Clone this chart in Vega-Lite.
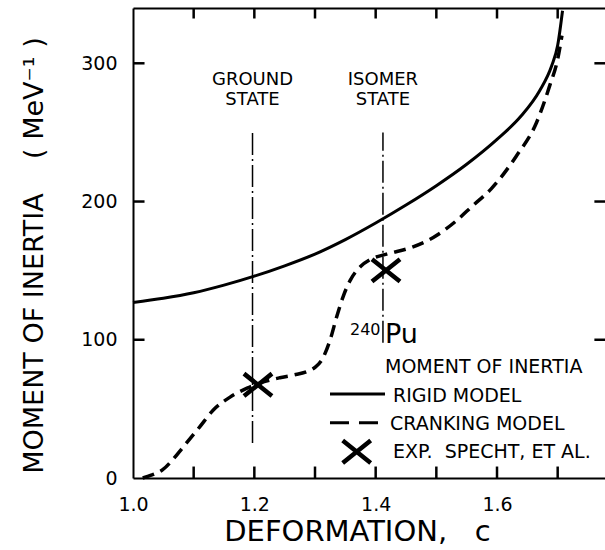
{
  "$schema": "https://vega.github.io/schema/vega-lite/v6.json",
  "width": 472,
  "height": 470,
  "autosize": "none",
  "padding": {"left": 133, "top": 8, "right": 0, "bottom": 72},
  "background": "white",
  "config": {
    "font": "DejaVu Sans",
    "view": {"stroke": null},
    "axis": {
      "grid": false,
      "domainColor": "black",
      "domainWidth": 2,
      "labelColor": "black",
      "labelFontSize": 19,
      "titleColor": "black",
      "titleFontWeight": "normal",
      "titleFontSize": 27
    }
  },
  "datasets": {
    "curves": [
      {"model": "RIGID MODEL", "c": 1.0, "inertia": 127},
      {"model": "RIGID MODEL", "c": 1.05, "inertia": 130},
      {"model": "RIGID MODEL", "c": 1.1, "inertia": 134},
      {"model": "RIGID MODEL", "c": 1.15, "inertia": 139.5},
      {"model": "RIGID MODEL", "c": 1.2, "inertia": 146},
      {"model": "RIGID MODEL", "c": 1.25, "inertia": 153.5},
      {"model": "RIGID MODEL", "c": 1.3, "inertia": 162},
      {"model": "RIGID MODEL", "c": 1.35, "inertia": 172.5},
      {"model": "RIGID MODEL", "c": 1.4, "inertia": 184.5},
      {"model": "RIGID MODEL", "c": 1.45, "inertia": 197.5},
      {"model": "RIGID MODEL", "c": 1.5, "inertia": 211.5},
      {"model": "RIGID MODEL", "c": 1.55, "inertia": 227},
      {"model": "RIGID MODEL", "c": 1.6, "inertia": 245},
      {"model": "RIGID MODEL", "c": 1.64, "inertia": 262},
      {"model": "RIGID MODEL", "c": 1.67, "inertia": 280},
      {"model": "RIGID MODEL", "c": 1.69, "inertia": 298},
      {"model": "RIGID MODEL", "c": 1.7, "inertia": 313},
      {"model": "RIGID MODEL", "c": 1.708, "inertia": 338},
      {"model": "CRANKING MODEL", "c": 1.016, "inertia": 0},
      {"model": "CRANKING MODEL", "c": 1.03, "inertia": 2},
      {"model": "CRANKING MODEL", "c": 1.049, "inertia": 6},
      {"model": "CRANKING MODEL", "c": 1.065, "inertia": 13},
      {"model": "CRANKING MODEL", "c": 1.082, "inertia": 22},
      {"model": "CRANKING MODEL", "c": 1.11, "inertia": 37},
      {"model": "CRANKING MODEL", "c": 1.132, "inertia": 49},
      {"model": "CRANKING MODEL", "c": 1.16, "inertia": 58.5},
      {"model": "CRANKING MODEL", "c": 1.188, "inertia": 65},
      {"model": "CRANKING MODEL", "c": 1.215, "inertia": 69.5},
      {"model": "CRANKING MODEL", "c": 1.242, "inertia": 72.5},
      {"model": "CRANKING MODEL", "c": 1.265, "inertia": 74.5},
      {"model": "CRANKING MODEL", "c": 1.287, "inertia": 77},
      {"model": "CRANKING MODEL", "c": 1.3, "inertia": 80},
      {"model": "CRANKING MODEL", "c": 1.312, "inertia": 86},
      {"model": "CRANKING MODEL", "c": 1.325, "inertia": 100},
      {"model": "CRANKING MODEL", "c": 1.336, "inertia": 117},
      {"model": "CRANKING MODEL", "c": 1.347, "inertia": 132},
      {"model": "CRANKING MODEL", "c": 1.358, "inertia": 143},
      {"model": "CRANKING MODEL", "c": 1.375, "inertia": 153},
      {"model": "CRANKING MODEL", "c": 1.391, "inertia": 158},
      {"model": "CRANKING MODEL", "c": 1.418, "inertia": 162},
      {"model": "CRANKING MODEL", "c": 1.457, "inertia": 166.5},
      {"model": "CRANKING MODEL", "c": 1.495, "inertia": 174},
      {"model": "CRANKING MODEL", "c": 1.53, "inertia": 185},
      {"model": "CRANKING MODEL", "c": 1.56, "inertia": 197},
      {"model": "CRANKING MODEL", "c": 1.59, "inertia": 209},
      {"model": "CRANKING MODEL", "c": 1.632, "inertia": 233},
      {"model": "CRANKING MODEL", "c": 1.665, "inertia": 257},
      {"model": "CRANKING MODEL", "c": 1.687, "inertia": 284},
      {"model": "CRANKING MODEL", "c": 1.7, "inertia": 303},
      {"model": "CRANKING MODEL", "c": 1.707, "inertia": 320}
    ],
    "states": [
      {"state": "GROUND\nSTATE", "c": 1.197, "from": 25.4, "to": 250},
      {"state": "ISOMER\nSTATE", "c": 1.412, "from": 97.8, "to": 250}
    ],
    "experiment": [
      {"c": 1.206, "inertia": 67.4},
      {"c": 1.417, "inertia": 150.2}
    ],
    "nuclide": [
      {"part": "mass", "text": "240", "c": 1.3577, "inertia": 103.4},
      {"part": "symbol", "text": "Pu", "c": 1.4154, "inertia": 97.7}
    ],
    "keyText": [
      {"text": "MOMENT OF INERTIA", "c": 1.4154, "inertia": 76},
      {"text": "RIGID MODEL", "c": 1.4286, "inertia": 55.2},
      {"text": "CRANKING MODEL", "c": 1.4236, "inertia": 34.7},
      {"text": "EXP.\u00a0\u00a0SPECHT, ET AL.", "c": 1.4286, "inertia": 14.2}
    ],
    "keySamples": [
      {"model": "RIGID MODEL", "c": 1.3247, "c2": 1.4154, "inertia": 60.8},
      {"model": "CRANKING MODEL", "c": 1.3247, "c2": 1.4154, "inertia": 40}
    ],
    "keyMarker": [
      {"c": 1.3687, "inertia": 19.0}
    ],
    "cTicks": [
      {"c": 1.1}, {"c": 1.2}, {"c": 1.3}, {"c": 1.4}, {"c": 1.5}, {"c": 1.6}, {"c": 1.7}
    ],
    "inertiaTicks": [
      {"inertia": 100}, {"inertia": 200}, {"inertia": 300}
    ]
  },
  "layer": [
    {
      "data": {"name": "curves"},
      "transform": [{"filter": "datum.model == 'RIGID MODEL'"}],
      "mark": {"type": "line", "interpolate": "monotone", "color": "black", "strokeWidth": 3},
      "encoding": {
        "x": {
          "field": "c", "type": "quantitative",
          "scale": {"domain": [1, 1.778], "nice": false, "zero": false},
          "axis": {
            "orient": "bottom",
            "values": [1, 1.2, 1.4, 1.6],
            "format": ".1f",
            "ticks": false,
            "labelPadding": 17,
            "labelFlush": false,
            "labelOverlap": false,
            "title": "DEFORMATION,\u00a0\u00a0\u00a0c",
            "titleFontSize": 29,
            "titleX": 224,
            "titleY": 53,
            "titleAlign": "center",
            "titleBaseline": "middle"
          }
        },
        "y": {
          "field": "inertia", "type": "quantitative",
          "scale": {"domain": [0, 340], "nice": false},
          "axis": {
            "orient": "left",
            "values": [0, 100, 200, 300],
            "ticks": false,
            "labelPadding": 16,
            "labelFlush": false,
            "labelOverlap": false,
            "title": "MOMENT OF INERTIA\u00a0\u00a0\u00a0\u00a0( MeV⁻¹ )",
            "titleAngle": -90,
            "titleX": -99,
            "titleY": 247,
            "titleAlign": "center",
            "titleBaseline": "middle"
          }
        }
      }
    },
    {
      "data": {"name": "curves"},
      "transform": [{"filter": "datum.model == 'CRANKING MODEL'"}],
      "mark": {"type": "line", "interpolate": "monotone", "color": "black", "strokeWidth": 3.5, "strokeDash": [12, 7]},
      "encoding": {
        "x": {
          "field": "c", "type": "quantitative",
          "scale": {"domain": [1, 1.778], "nice": false, "zero": false},
          "axis": {"orient": "top", "ticks": false, "labels": false, "title": null}
        },
        "y": {
          "field": "inertia", "type": "quantitative",
          "scale": {"domain": [0, 340], "nice": false},
          "axis": null
        }
      }
    },
    {
      "data": {"name": "cTicks"},
      "mark": {"type": "rule", "color": "black", "strokeWidth": 2.5},
      "encoding": {
        "x": {"field": "c", "type": "quantitative", "scale": {"domain": [1, 1.778], "nice": false, "zero": false}, "axis": null},
        "y": {"datum": 0, "type": "quantitative", "scale": {"domain": [0, 340], "nice": false}, "axis": null},
        "y2": {"datum": 8.3}
      }
    },
    {
      "data": {"name": "cTicks"},
      "mark": {"type": "rule", "color": "black", "strokeWidth": 2.5},
      "encoding": {
        "x": {"field": "c", "type": "quantitative", "scale": {"domain": [1, 1.778], "nice": false, "zero": false}, "axis": null},
        "y": {"datum": 340, "type": "quantitative", "scale": {"domain": [0, 340], "nice": false}, "axis": null},
        "y2": {"datum": 332.4}
      }
    },
    {
      "data": {"name": "inertiaTicks"},
      "mark": {"type": "rule", "color": "black", "strokeWidth": 2.5},
      "encoding": {
        "x": {"datum": 1, "type": "quantitative", "scale": {"domain": [1, 1.778], "nice": false, "zero": false}, "axis": null},
        "x2": {"datum": 1.019},
        "y": {"field": "inertia", "type": "quantitative", "scale": {"domain": [0, 340], "nice": false}, "axis": null}
      }
    },
    {
      "data": {"name": "inertiaTicks"},
      "mark": {"type": "rule", "color": "black", "strokeWidth": 2.5},
      "encoding": {
        "x": {"datum": 1.7605, "type": "quantitative", "scale": {"domain": [1, 1.778], "nice": false, "zero": false}, "axis": null},
        "x2": {"datum": 1.778},
        "y": {"field": "inertia", "type": "quantitative", "scale": {"domain": [0, 340], "nice": false}, "axis": null}
      }
    },
    {
      "data": {"name": "states"},
      "mark": {"type": "rule", "color": "black", "strokeWidth": 1.5, "strokeDash": [22, 4, 2, 4]},
      "encoding": {
        "x": {"field": "c", "type": "quantitative", "scale": {"domain": [1, 1.778], "nice": false, "zero": false}, "axis": null},
        "y": {"field": "from", "type": "quantitative", "scale": {"domain": [0, 340], "nice": false}, "axis": null},
        "y2": {"field": "to"}
      }
    },
    {
      "data": {"name": "states"},
      "mark": {"type": "text", "color": "black", "fontSize": 18, "align": "center", "baseline": "alphabetic", "lineBreak": "\n", "lineHeight": 20, "dy": -47},
      "encoding": {
        "x": {"field": "c", "type": "quantitative", "scale": {"domain": [1, 1.778], "nice": false, "zero": false}, "axis": null},
        "y": {"field": "to", "type": "quantitative", "scale": {"domain": [0, 340], "nice": false}, "axis": null},
        "text": {"field": "state"}
      }
    },
    {
      "data": {"name": "experiment"},
      "mark": {"type": "point", "shape": "M-1,-0.8L1,0.8M-1,0.8L1,-0.8", "filled": false, "stroke": "black", "strokeWidth": 4.5, "size": 784, "opacity": 1},
      "encoding": {
        "x": {"field": "c", "type": "quantitative", "scale": {"domain": [1, 1.778], "nice": false, "zero": false}, "axis": null},
        "y": {"field": "inertia", "type": "quantitative", "scale": {"domain": [0, 340], "nice": false}, "axis": null}
      }
    },
    {
      "data": {"name": "keyMarker"},
      "mark": {"type": "point", "shape": "M-1,-0.8L1,0.8M-1,0.8L1,-0.8", "filled": false, "stroke": "black", "strokeWidth": 4.5, "size": 784, "opacity": 1},
      "encoding": {
        "x": {"field": "c", "type": "quantitative", "scale": {"domain": [1, 1.778], "nice": false, "zero": false}, "axis": null},
        "y": {"field": "inertia", "type": "quantitative", "scale": {"domain": [0, 340], "nice": false}, "axis": null}
      }
    },
    {
      "data": {"name": "keySamples"},
      "mark": {"type": "rule", "color": "black", "strokeWidth": 3},
      "encoding": {
        "x": {"field": "c", "type": "quantitative", "scale": {"domain": [1, 1.778], "nice": false, "zero": false}, "axis": null},
        "x2": {"field": "c2"},
        "y": {"field": "inertia", "type": "quantitative", "scale": {"domain": [0, 340], "nice": false}, "axis": null},
        "strokeDash": {
          "field": "model", "type": "nominal",
          "scale": {"domain": ["RIGID MODEL", "CRANKING MODEL"], "range": [[1, 0], [19, 10]]},
          "legend": null
        }
      }
    },
    {
      "data": {"name": "keyText"},
      "mark": {"type": "text", "color": "black", "fontSize": 19, "align": "left", "baseline": "alphabetic"},
      "encoding": {
        "x": {"field": "c", "type": "quantitative", "scale": {"domain": [1, 1.778], "nice": false, "zero": false}, "axis": null},
        "y": {"field": "inertia", "type": "quantitative", "scale": {"domain": [0, 340], "nice": false}, "axis": null},
        "text": {"field": "text"}
      }
    },
    {
      "data": {"name": "nuclide"},
      "transform": [{"filter": "datum.part == 'mass'"}],
      "mark": {"type": "text", "color": "black", "fontSize": 16, "align": "left", "baseline": "alphabetic"},
      "encoding": {
        "x": {"field": "c", "type": "quantitative", "scale": {"domain": [1, 1.778], "nice": false, "zero": false}, "axis": null},
        "y": {"field": "inertia", "type": "quantitative", "scale": {"domain": [0, 340], "nice": false}, "axis": null},
        "text": {"field": "text"}
      }
    },
    {
      "data": {"name": "nuclide"},
      "transform": [{"filter": "datum.part == 'symbol'"}],
      "mark": {"type": "text", "color": "black", "fontSize": 27, "align": "left", "baseline": "alphabetic"},
      "encoding": {
        "x": {"field": "c", "type": "quantitative", "scale": {"domain": [1, 1.778], "nice": false, "zero": false}, "axis": null},
        "y": {"field": "inertia", "type": "quantitative", "scale": {"domain": [0, 340], "nice": false}, "axis": null},
        "text": {"field": "text"}
      }
    }
  ],
  "resolve": {"axis": {"x": "independent", "y": "independent"}}
}
